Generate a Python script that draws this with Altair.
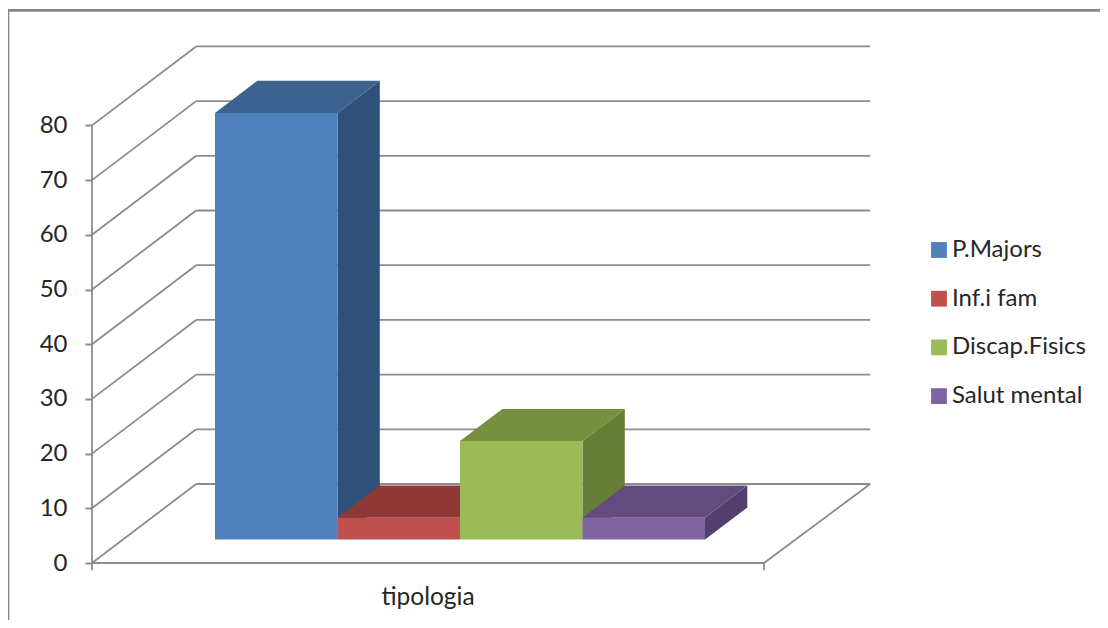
import altair as alt
import pandas as pd

series = ["P.Majors", "Inf.i fam", "Discap.Fisics", "Salut mental"]
values = [78, 4, 18, 4]
front_colors = ["#4F81BD", "#C0504D", "#9BBB59", "#8064A2"]
top_colors = ["#3C6290", "#8F3937", "#769040", "#624C7D"]
side_colors = ["#30517A", "#7A2F2D", "#667F38", "#533F6B"]
ticks = [0, 10, 20, 30, 40, 50, 60, 70, 80]
category = ["tipologia"]

# Oblique projection of the 3D box, in axis units (x: share of the category axis, y: value)
DX, DY = 0.155, 14.44
D_FRONT, D_BACK = 0.297, 0.703
BAR_START, BAR_W = 0.137, 0.1823
BACK_END = 1.003
FONT = "Lato"
INK = "#262626"
GRID = "#8C8C8C"


def proj(u, v, d):
    return u + d * DX, v + d * DY


seg = []


def add_line(a, b):
    sid = len(seg) // 2
    for u, v, d in (a, b):
        x, y = proj(u, v, d)
        seg.append({"x": x, "y": y, "id": sid})


for t in ticks:
    add_line((0, t, 0), (0, t, 1))
    add_line((0, t, 1), (BACK_END, t, 1))
add_line((0, 0, 0), (0, ticks[-1], 0))
add_line((0, 0, 0), (1, 0, 0))
add_line((1, 0, 0), (BACK_END, 0, 1))
add_line((0, 0, 0), (0, -1.3, 0))
add_line((1, 0, 0), (1, -1.3, 0))

fronts, tops, sides = [], [], []
for i, (name, val) in enumerate(zip(series, values)):
    u0 = BAR_START + i * BAR_W
    u1 = u0 + BAR_W
    x0, base = proj(u0, 0, D_FRONT)
    x1, _ = proj(u1, 0, D_FRONT)
    fronts.append({"series": name, "x": x0, "x2": x1, "y": base, "y2": base + val})
    for d in (D_FRONT, D_BACK):
        xa, ya = proj(u0, val, d)
        xb, _ = proj(u1, val, d)
        tops.append({"series": name, "x": xa, "x2": xb, "y": ya, "c": top_colors[i]})
        xs, y_low = proj(u1, 0, d)
        sides.append({"series": name, "x": xs, "y": y_low, "y2": y_low + val, "c": side_colors[i]})

W, H = 1092, 612
PX_U, PX_V = 672.0, 5.47
x_scale = alt.Scale(domain=[-84 / PX_U, (W - 84) / PX_U], nice=False, zero=False)
y_scale = alt.Scale(domain=[(555 - H) / PX_V, 555 / PX_V], nice=False, zero=False)
X = alt.X("x:Q", scale=x_scale, axis=None)
value_axis = alt.Axis(
    values=ticks, orient="left", offset=-84, domain=False, grid=False, title=None,
    tickColor=GRID, tickWidth=2, tickSize=7, labelFont=FONT, labelFontSize=24,
    labelColor=INK, labelPadding=18,
)
Y = alt.Y("y:Q", scale=y_scale, axis=value_axis)

grid = alt.Chart(pd.DataFrame(seg)).mark_line(color=GRID, strokeWidth=1.8).encode(x=X, y=Y, detail="id:N")

side_layer = alt.Chart(pd.DataFrame(sides)).mark_area(opacity=1).encode(
    x=X, y=Y, y2="y2:Q", detail="series:N", fill=alt.Fill("c:N", scale=None)
)
top_layer = alt.Chart(pd.DataFrame(tops)).mark_area(orient="horizontal", opacity=1).encode(
    x=X, x2="x2:Q", y=Y, detail="series:N", fill=alt.Fill("c:N", scale=None)
)
front_layer = alt.Chart(pd.DataFrame(fronts)).mark_rect(opacity=1).encode(
    x=X, x2="x2:Q", y=Y, y2="y2:Q",
    color=alt.Color(
        "series:N",
        scale=alt.Scale(domain=series, range=front_colors),
        legend=alt.Legend(
            orient="none", legendX=919, legendY=230, title=None, symbolType="square",
            symbolSize=250, symbolStrokeWidth=0, labelFont=FONT, labelFontSize=24,
            labelColor=INK, rowPadding=24.7, labelLimit=300, labelOffset=1,
        ),
    ),
)
label_layer = alt.Chart(pd.DataFrame({"label": category, "x": [0.5], "y": [-6.4]})).mark_text(
    font=FONT, fontSize=24.5, color=INK, baseline="middle", align="center"
).encode(x=X, y=Y, text="label:N")

frame_rows = [
    {"x": -84 / PX_U, "y": 552.6 / PX_V, "id": 0},
    {"x": (W - 84) / PX_U, "y": 552.6 / PX_V, "id": 0},
    {"x": -84 / PX_U, "y": 552.6 / PX_V, "id": 1},
    {"x": -84 / PX_U, "y": (555 - H) / PX_V, "id": 1},
]
frame = alt.Chart(pd.DataFrame(frame_rows)).mark_line(color="#868686", strokeWidth=2.6).encode(x=X, y=Y, detail="id:N")

chart = (
    alt.layer(frame, grid, side_layer, top_layer, front_layer, label_layer)
    .properties(width=W, height=H, padding=0, autosize=alt.AutoSizeParams(type="none"), background="white")
    .configure_view(stroke=None)
)
chart.save("out.html", embed_options={"renderer": "svg", "actions": False})
